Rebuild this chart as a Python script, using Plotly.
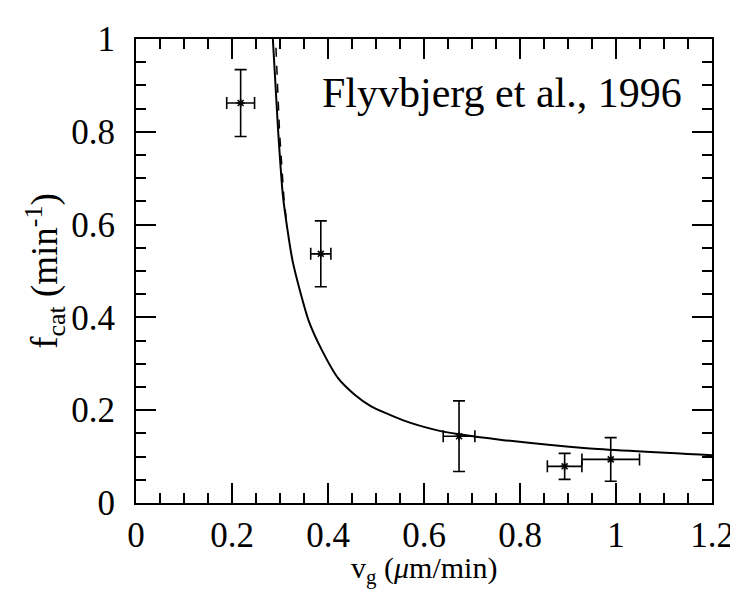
import plotly.graph_objects as go

# Measured data points (v_g in um/min, f_cat in 1/min)
vg = [0.218, 0.385, 0.673, 0.893, 0.989]
fcat = [0.862, 0.537, 0.144, 0.079, 0.094]
fcat_err = [0.072, 0.071, 0.076, 0.028, 0.047]
vg_err = [0.029, 0.021, 0.033, 0.036, 0.060]

# Solid model curve
curve_x = [0.284, 0.296, 0.306, 0.315, 0.326, 0.343, 0.360, 0.387,
           0.421, 0.455, 0.489, 0.557, 0.626, 0.673, 0.762, 0.939, 1.2]
curve_y = [1.02, 0.804, 0.663, 0.593, 0.523, 0.452, 0.392, 0.330,
           0.269, 0.234, 0.209, 0.178, 0.157, 0.148, 0.136, 0.118, 0.103]

# Dashed curve near the asymptote
dash_x = [0.290, 0.299, 0.308, 0.315]
dash_y = [1.02, 0.80, 0.66, 0.593]

x_ticks = [0, 0.2, 0.4, 0.6, 0.8, 1, 1.2]
y_ticks = [0, 0.2, 0.4, 0.6, 0.8, 1]
minor_step = 0.05

FONT = "Liberation Serif"
INK = "black"

fig = go.Figure()

fig.add_trace(go.Scatter(
    x=curve_x, y=curve_y, mode="lines",
    line=dict(color=INK, width=2, shape="spline", smoothing=0.6),
    showlegend=False, hoverinfo="skip"))

fig.add_trace(go.Scatter(
    x=dash_x, y=dash_y, mode="lines",
    line=dict(color=INK, width=1.5, dash="dash"),
    showlegend=False, hoverinfo="skip"))

fig.add_trace(go.Scatter(
    x=vg, y=fcat, mode="markers",
    marker=dict(symbol="asterisk-open", size=7, color=INK,
                line=dict(color=INK, width=1.5)),
    error_y=dict(type="data", array=fcat_err, color=INK, thickness=1.6, width=6),
    error_x=dict(type="data", array=vg_err, color=INK, thickness=1.6, width=6),
    showlegend=False))

fig.add_annotation(
    x=0.383, y=0.884, xref="x", yref="y", xanchor="left", yanchor="middle",
    text="Flyvbjerg et al., 1996", showarrow=False,
    font=dict(family=FONT, size=42, color="black"))

# x-axis title placed as an annotation for precise vertical placement
fig.add_annotation(
    x=0.5, y=-0.145, xref="paper", yref="paper", xanchor="center", yanchor="middle",
    text="v<sub>g</sub> (<i>μ</i>m/min)", showarrow=False,
    font=dict(family=FONT, size=30, color=INK))

def axis_style(ticks):
    return dict(
        range=[ticks[0], ticks[-1]],
        tickmode="linear", tick0=ticks[0], dtick=ticks[1] - ticks[0],
        showgrid=False, zeroline=False,
        showline=True, linecolor=INK, linewidth=2, mirror="ticks",
        ticks="inside", ticklen=20, tickwidth=2, tickcolor=INK,
        minor=dict(dtick=minor_step, ticks="inside", ticklen=10,
                   tickwidth=1.5, tickcolor=INK),
        tickfont=dict(family=FONT, size=35, color=INK),
    )

fig.update_xaxes(**axis_style(x_ticks))
fig.update_yaxes(**axis_style(y_ticks))
fig.update_yaxes(
    title=dict(text="f<sub>cat</sub> (min<sup>-1</sup>)", standoff=2,
               font=dict(family=FONT, size=37, color=INK)),
    ticklabelstandoff=12,
)

fig.update_layout(
    width=738, height=590,
    margin=dict(l=128, r=24, t=22, b=95),
    paper_bgcolor="white", plot_bgcolor="white",
)

fig.write_html("out.html")
